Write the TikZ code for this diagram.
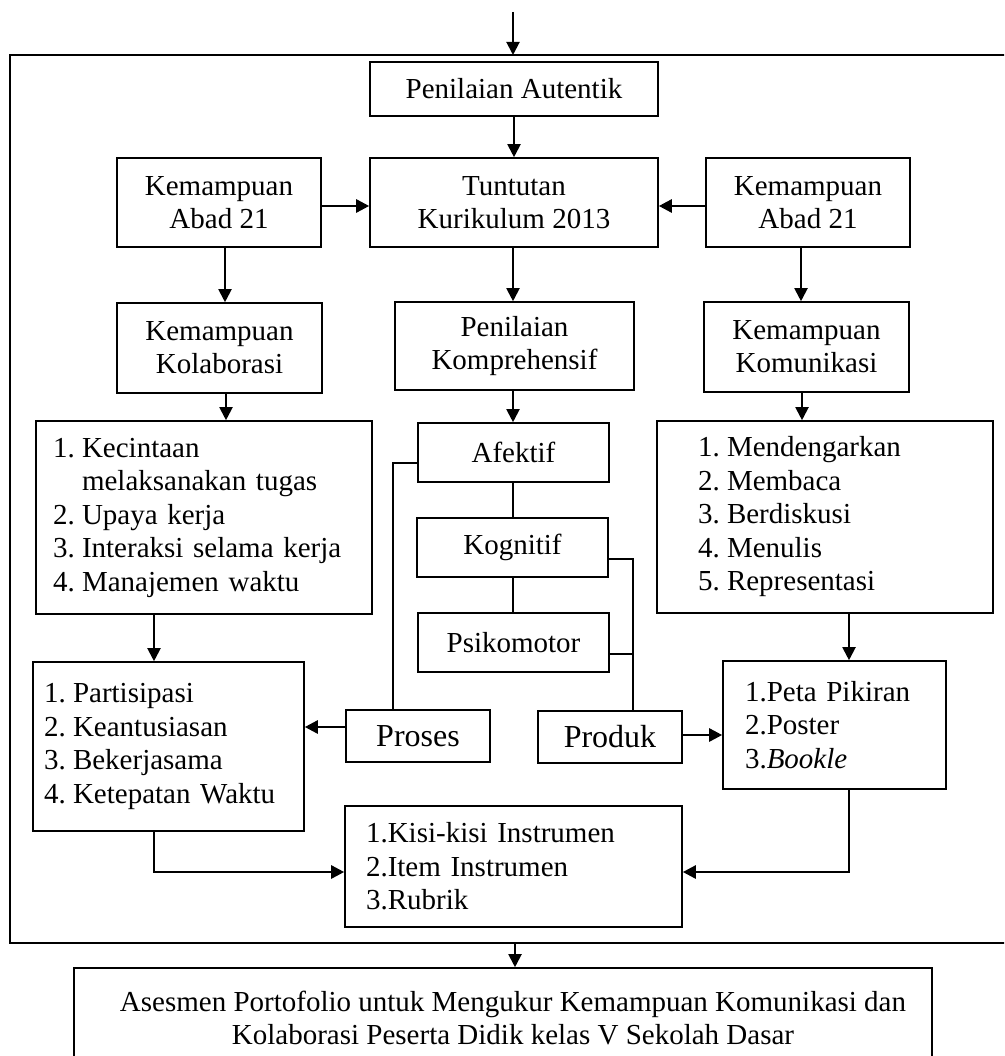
\documentclass[tikz,border=0pt]{standalone}
\usepackage{fontspec}
\setmainfont{Liberation Serif}
\usetikzlibrary{arrows.meta}
\begin{document}
\begin{tikzpicture}[x=1pt,y=-1pt,
  box/.style={draw, line width=1.6pt, rectangle, inner sep=0pt,
    font=\fontsize{29}{33}\selectfont, align=center},
  listbox/.style={box, font=\fontsize{29}{33.5}\selectfont, align=left},
  arr/.style={line width=2pt, -{Triangle[length=13pt,width=13pt]}},
  harr/.style={line width=2.6pt, -{Triangle[length=13pt,width=13pt]}},
  ln/.style={line width=1.6pt}]
\useasboundingbox (0,0) rectangle (1004,1056);
\clip (0,0) rectangle (1004,1056);

\newcommand{\nb}[1]{\makebox[29pt][l]{#1}}

% nodes
\node[box, minimum width=288pt, minimum height=54pt] (PA) at (514,89) {Penilaian Autentik};
\node[box, minimum width=288pt, minimum height=89pt] (TK) at (514,202.5) {Tuntutan\\Kurikulum 2013};
\node[box, minimum width=204pt, minimum height=89pt] (AL) at (219,202.5) {Kemampuan\\Abad 21};
\node[box, minimum width=204pt, minimum height=89pt] (AR) at (808,202.5) {Kemampuan\\Abad 21};
\node[box, minimum width=205pt, minimum height=90pt] (KK) at (219.5,348) {Kemampuan\\Kolaborasi};
\node[box, minimum width=239pt, minimum height=88pt] (PK) at (514.5,346) {Penilaian\\Komprehensif};
\node[box, minimum width=205pt, minimum height=90pt] (KM) at (806.5,347) {Kemampuan\\Komunikasi};

\node[listbox, minimum height=193pt, inner xsep=17pt, text width=302pt] (LL) at (204,517.5)
  {\nb{1.}Kecintaan\\\hspace*{29pt}melaksanakan tugas\\\nb{2.}Upaya kerja\\\nb{3.}Interaksi selama kerja\\\nb{4.}Manajemen waktu};
\node[listbox, minimum height=192pt, inner xsep=41pt, text width=254pt] (RL) at (825,517)
  {\nb{1.}Mendengarkan\\\nb{2.}Membaca\\\nb{3.}Berdiskusi\\\nb{4.}Menulis\\\nb{5.}Representasi};

\node[box, minimum width=191pt, minimum height=59pt] (AF) at (513.5,452.5) {Afektif};
\node[box, minimum width=191pt, minimum height=59pt] (KG) at (512.5,547.5) {Kognitif};
\node[box, minimum width=191pt, minimum height=59pt] (PS) at (513.5,642.5) {Psikomotor};

\node[listbox, minimum height=169pt, inner xsep=11pt, text width=249pt] (PP) at (168.5,746.5)
  {\nb{1.}Partisipasi\\\nb{2.}Keantusiasan\\\nb{3.}Bekerjasama\\\nb{4.}Ketepatan Waktu};
\node[box, minimum width=144pt, minimum height=52pt, font=\fontsize{32}{36}\selectfont] (PR) at (418,736) {Proses};
\node[box, minimum width=144pt, minimum height=52pt, font=\fontsize{32}{36}\selectfont] (PD) at (610,737) {Produk};
\node[listbox, minimum height=128pt, inner xsep=22pt, text width=179pt] (PT) at (834.5,725)
  {1.Peta Pikiran\\2.Poster\\3.\textit{Bookle}};
\node[listbox, minimum height=121pt, inner xsep=21pt, text width=295pt] (KI) at (513.5,866.5)
  {1.Kisi-kisi Instrumen\\2.Item Instrumen\\3.Rubrik};

\node[box, minimum width=858pt, minimum height=124pt] (ASbox) at (503,1030) {};
\node[font=\fontsize{29}{33}\selectfont, align=center, inner sep=0pt] (AStext) at (513,1018)
  {Asesmen Portofolio untuk Mengukur Kemampuan Komunikasi dan\\Kolaborasi Peserta Didik kelas V Sekolah Dasar};

% frame
\coordinate (topstart) at (513,12);
\coordinate (ftop) at (513,55);
\coordinate (fbot) at (515,943);
\draw[ln] (1012,55) -- (10,55) -- (10,943) -- (1012,943);

% connectors
\draw[arr] (topstart) -- (ftop);
\draw[arr] (PA.south) -- (TK.north);
\draw[harr] ([yshift=-3.5pt]AL.east) -- ([yshift=-3.5pt]TK.west);
\draw[harr] ([yshift=-3.5pt]AR.west) -- ([yshift=-3.5pt]TK.east);
\draw[arr] (225,0 |- AL.south) -- (225,0 |- KK.north);
\draw[arr] (513,0 |- TK.south) -- (513,0 |- PK.north);
\draw[arr] (801,0 |- AR.south) -- (801,0 |- KM.north);
\draw[arr] (226,0 |- KK.south) -- (226,0 |- LL.north);
\draw[arr] (513,0 |- PK.south) -- (513,0 |- AF.north);
\draw[arr] (802,0 |- KM.south) -- (802,0 |- RL.north);
\draw[arr] (154,0 |- LL.south) -- (154,0 |- PP.north);
\draw[arr] (849,0 |- RL.south) -- (849,0 |- PT.north);

\draw[ln] (513,0 |- AF.south) -- (513,0 |- KG.north);
\draw[ln] (513,0 |- KG.south) -- (513,0 |- PS.north);
\draw[ln] (AF.west |- 0,463) -- (393,463) -- (393,0 |- PR.north);
\draw[ln] (KG.east |- 0,559) -- (633,559) -- (633,0 |- PD.north);
\draw[ln] (PS.east |- 0,654) -- (633,654);

\draw[harr] (PR.west |- 0,727) -- (PP.east |- 0,727);
\draw[harr] (PD.east |- 0,735) -- (PT.west |- 0,735);
\draw[harr] (154,0 |- PP.south) -- (154,872) -- (KI.west |- 0,872);
\draw[harr] (849,0 |- PT.south) -- (849,872) -- (KI.east |- 0,872);
\draw[arr] (fbot) -- (fbot |- ASbox.north);
\end{tikzpicture}
\end{document}
